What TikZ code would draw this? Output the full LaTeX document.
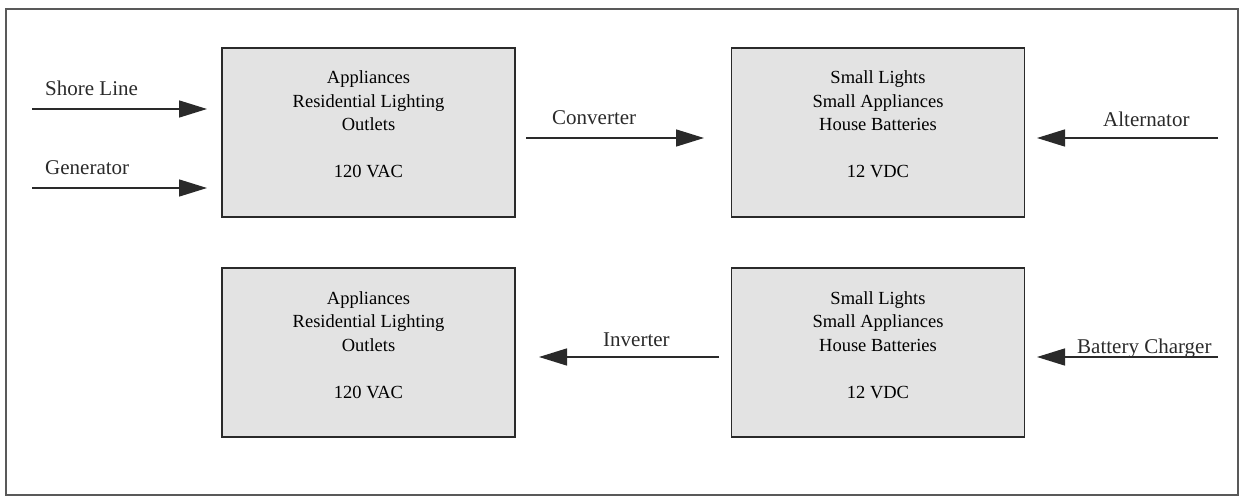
\documentclass[tikz,border=0pt]{standalone}
\usepackage{fontspec}
\setmainfont{Liberation Serif}
\usetikzlibrary{arrows.meta}
\definecolor{boxfill}{HTML}{E3E3E3}
\definecolor{ink}{HTML}{2A2A2A}
\tikzset{
  block/.style={draw=ink, line width=1.6pt, fill=boxfill, minimum width=293pt, minimum height=169pt, inner sep=0pt},
  blocktext/.style={align=center, font=\fontsize{18.5}{23.5}\selectfont, inner sep=0pt},
  flow/.style={draw=ink, line width=1.5pt, -{Triangle[length=28pt,width=17pt]}},
  lbl/.style={anchor=base west, font=\fontsize{21}{24}\selectfont, inner sep=0pt, text=ink}
}
\begin{document}
\begin{tikzpicture}[x=1pt,y=-1pt]
\useasboundingbox (0,0) rectangle (1241,497);
\node[draw=black!65, line width=1.3pt, minimum width=1232pt, minimum height=486pt, inner sep=0pt] (frame) at (622,252) {};
% boxes
\node[block] (b1) at (368.5,132.5) {};
\node[block] (b2) at (878,132.5) {};
\node[block] (b3) at (368.5,352.5) {};
\node[block] (b4) at (878,352.5) {};
\node[blocktext, anchor=base] (t1) at (368.5,178) {Appliances\\Residential Lighting\\Outlets\\[23.5pt]120 VAC};
\node[blocktext, anchor=base] (t2) at (878,178) {Small Lights\\Small Appliances\\House Batteries\\[23.5pt]12 VDC};
\node[blocktext, anchor=base] (t3) at (368.5,398) {Appliances\\Residential Lighting\\Outlets\\[23.5pt]120 VAC};
\node[blocktext, anchor=base] (t4) at (878,398) {Small Lights\\Small Appliances\\House Batteries\\[23.5pt]12 VDC};
% arrow endpoints
\coordinate (s1) at (32,109);  \coordinate (e1) at (207,109);
\coordinate (s2) at (32,188);  \coordinate (e2) at (207,188);
\coordinate (s3) at (526,138); \coordinate (e3) at (704,138);
\coordinate (s4) at (1218,138);\coordinate (e4) at (1037,138);
\coordinate (s5) at (719,357); \coordinate (e5) at (539,357);
\coordinate (s6) at (1218,357);\coordinate (e6) at (1037,357);
\draw[flow] (s1) -- (e1);
\draw[flow] (s2) -- (e2);
\draw[flow] (s3) -- (e3);
\draw[flow] (s4) -- (e4);
\draw[flow] (s5) -- (e5);
\draw[flow] (s6) -- (e6);
% labels
\node[lbl] (l1) at (45,96) {Shore Line};
\node[lbl] (l2) at (45,175) {Generator};
\node[lbl] (l3) at (552,125) {Converter};
\node[lbl] (l4) at (1103,127) {Alternator};
\node[lbl] (l5) at (603,346) {Inverter};
\node[lbl] (l6) at (1077,353) {Battery Charger};
\end{tikzpicture}
\end{document}
